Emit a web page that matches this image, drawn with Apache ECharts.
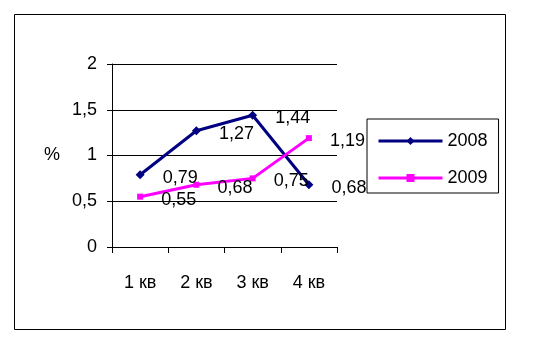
<!DOCTYPE html>
<html><head><meta charset="utf-8">
<script src="https://cdn.jsdelivr.net/npm/echarts@6/dist/echarts.min.js"></script>
<style>html,body{margin:0;padding:0;background:#fff}#c{width:540px;height:346px}</style>
</head><body><div id="c"></div>
<script>
var categories = ['1 кв', '2 кв', '3 кв', '4 кв'];
var values2008 = [0.79, 1.27, 1.44, 0.68];
var values2009 = [0.55, 0.68, 0.75, 1.19];
var seriesNames = ['2008', '2009'];
var yTicks = [0, 0.5, 1, 1.5, 2];

var font = 'Liberation Sans, Arial, sans-serif';
function fmt(v){ return String(v).replace('.', ','); }
var chart = echarts.init(document.getElementById('c'), null, {renderer:'canvas'});
var labelCfg = {show:true, position:'right', distance:18, offset:[0,3], color:'#000', fontSize:18, fontFamily:font,
  formatter:function(p){return fmt(p.value);}};
chart.setOption({
  animation:false,
  backgroundColor:'#fff',
  graphic:[{type:'rect', shape:{x:14.5,y:14.5,width:491,height:315}, style:{fill:'none', stroke:'#000', lineWidth:1}, z:0}],
  grid:{left:112, right:203, top:64, bottom:99},
  xAxis:{type:'category', data:categories, boundaryGap:true,
    axisLine:{lineStyle:{color:'#000', width:1}},
    axisTick:{show:true, length:6, lineStyle:{color:'#000'}},
    axisLabel:{color:'#000', fontSize:18, fontFamily:font, margin:27}},
  yAxis:{type:'value', min:yTicks[0], max:yTicks[yTicks.length-1], interval:0.5,
    name:'%', nameLocation:'middle', nameRotate:0, nameGap:52,
    nameTextStyle:{color:'#000', fontSize:18, fontFamily:font},
    axisLine:{show:true, lineStyle:{color:'#000', width:1}},
    axisTick:{show:true, length:5, lineStyle:{color:'#000'}},
    splitLine:{show:true, lineStyle:{color:'#000', width:1}},
    axisLabel:{color:'#000', fontSize:18, fontFamily:font, margin:15, formatter:function(v){return fmt(v);}}},
  legend:{orient:'vertical', left:367, top:119, padding:[12,11,5,10], itemWidth:64, itemHeight:10, itemGap:17,
    backgroundColor:'#fff', borderColor:'#000', borderWidth:1, borderRadius:0, z:10,
    lineStyle:{width:3},
    textStyle:{color:'#000', fontSize:18, fontFamily:font, lineHeight:20},
    data:seriesNames},
  series:[
    {name:seriesNames[0], type:'line', data:values2008, symbol:'diamond', symbolSize:9,
      lineStyle:{color:'#000080', width:3}, itemStyle:{color:'#000080'}, label:labelCfg},
    {name:seriesNames[1], type:'line', data:values2009, symbol:'rect', symbolSize:6,
      lineStyle:{color:'#FF00FF', width:3}, itemStyle:{color:'#FF00FF'}, label:labelCfg}
  ]
});
</script></body></html>
